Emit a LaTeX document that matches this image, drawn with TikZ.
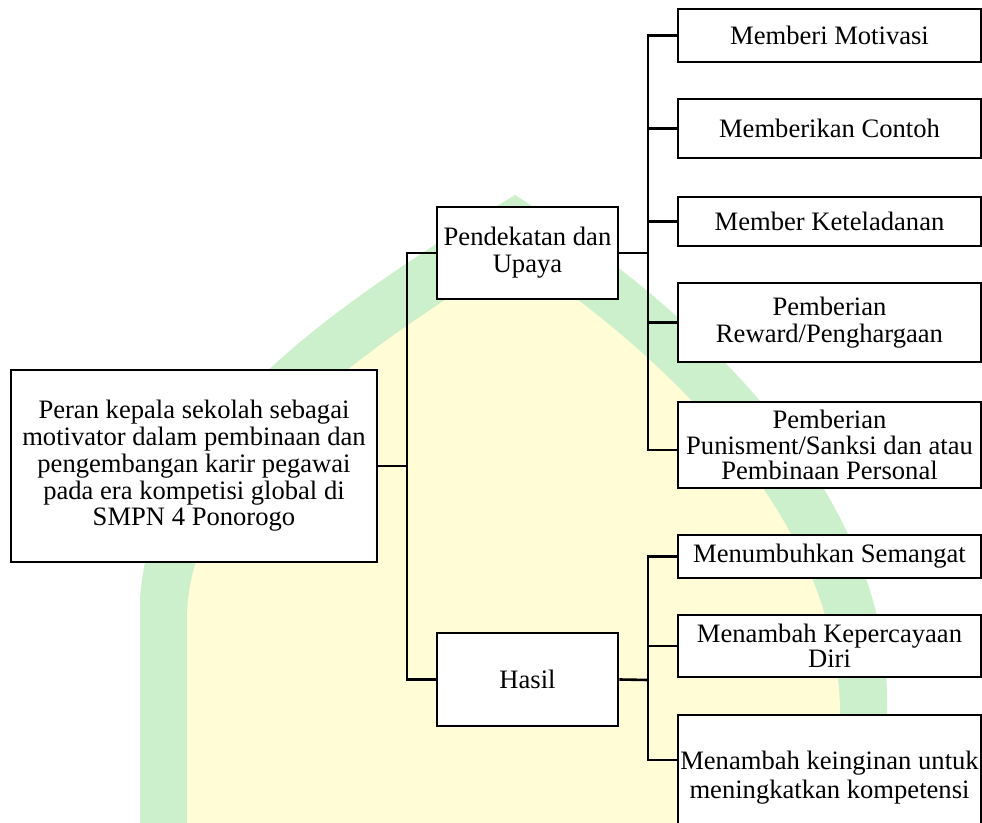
\documentclass[tikz,border=0pt]{standalone}
\usepackage{fontspec}
\setmainfont{Liberation Serif}
\definecolor{wmgreen}{RGB}{204,240,204}
\definecolor{wmyellow}{RGB}{255,252,214}
\tikzset{
  box/.style={draw=black, line width=1.3pt, fill=white, align=center, inner sep=1pt,
    font=\fontsize{13.3}{13.4}\selectfont},
  conn/.style={draw=black, line width=1.3pt}
}
\begin{document}
\begin{tikzpicture}[x=0.5pt,y=-0.5pt]
\useasboundingbox (0,0) rectangle (982,823);
\clip (0,0) rectangle (982,823);
\fill[white] (0,0) rectangle (982,823);
% watermark
\fill[wmgreen] (140,830) -- (140,600) .. controls (150,420) and (360,290) .. (515,195)
   .. controls (680,300) and (887,480) .. (887,700) -- (887,830) -- cycle;
\fill[wmyellow] (187,830) -- (187,615) .. controls (192,455) and (390,335) .. (515,255)
   .. controls (650,345) and (840,510) .. (840,715) -- (840,830) -- cycle;
% nodes
\node[box, minimum width=183pt, minimum height=96pt] (root) at (194,466)
  {Peran kepala sekolah sebagai\\motivator dalam pembinaan dan\\pengembangan karir pegawai\\pada era kompetisi global di\\SMPN 4 Ponorogo};
\node[box, minimum width=90.5pt, minimum height=46pt] (pend) at (527.5,253) {Pendekatan dan\\Upaya};
\node[box, minimum width=90.5pt, minimum height=46.5pt] (hasil) at (527.5,679.5) {Hasil};
\node[box, minimum width=151.5pt, minimum height=26.5pt] (c1) at (829.5,35.5) {Memberi Motivasi};
\node[box, minimum width=151.5pt, minimum height=29.5pt] (c2) at (829.5,128.5) {Memberikan Contoh};
\node[box, minimum width=151.5pt, minimum height=24.5pt] (c3) at (829.5,221.5) {Member Keteladanan};
\node[box, minimum width=151.5pt, minimum height=39.5pt] (c4) at (829.5,322.5) {Pemberian\\Reward/Penghargaan};
\node[box, minimum width=151.5pt, minimum height=43pt, font=\fontsize{13.3}{12.8}\selectfont] (c5) at (829.5,445) {Pemberian\\Punisment/Sanksi dan atau\\Pembinaan Personal};
\node[box, minimum width=151.5pt, minimum height=21.5pt] (d1) at (829.5,556.5) {Menumbuhkan Semangat};
\node[box, minimum width=151.5pt, minimum height=31pt, font=\fontsize{13.3}{12.8}\selectfont] (d2) at (829.5,646) {Menambah Kepercayaan\\Diri};
\node[box, minimum width=151.5pt, minimum height=63pt, inner sep=0pt, font=\fontsize{13.3}{14.5}\selectfont] (d3) at (829.5,778) {Menambah keinginan untuk\\meningkatkan kompetensi};
% connectors
\coordinate (tL) at (407,466);
\coordinate (tR) at (648,253);
\coordinate (tH) at (648,680);
\draw[conn] (root.east) -- (tL);
\draw[conn] (tL) |- (pend.west);
\draw[conn] (tL) |- (hasil.west);
\draw[conn] (pend.east) -- (tR);
\draw[conn] (tR) |- (c1.west);
\draw[conn] (tR) |- (c2.west);
\draw[conn] (tR) |- (c3.west);
\draw[conn] (tR) |- (c4.west);
\draw[conn] (tR) |- ([yshift=-2.5pt]c5.west);
\draw[conn] (hasil.east) -- (tH);
\draw[conn] (tH) |- (d1.west);
\draw[conn] (tH) |- (d2.west);
\draw[conn] (tH) |- ([yshift=9pt]d3.west);
\end{tikzpicture}
\end{document}
